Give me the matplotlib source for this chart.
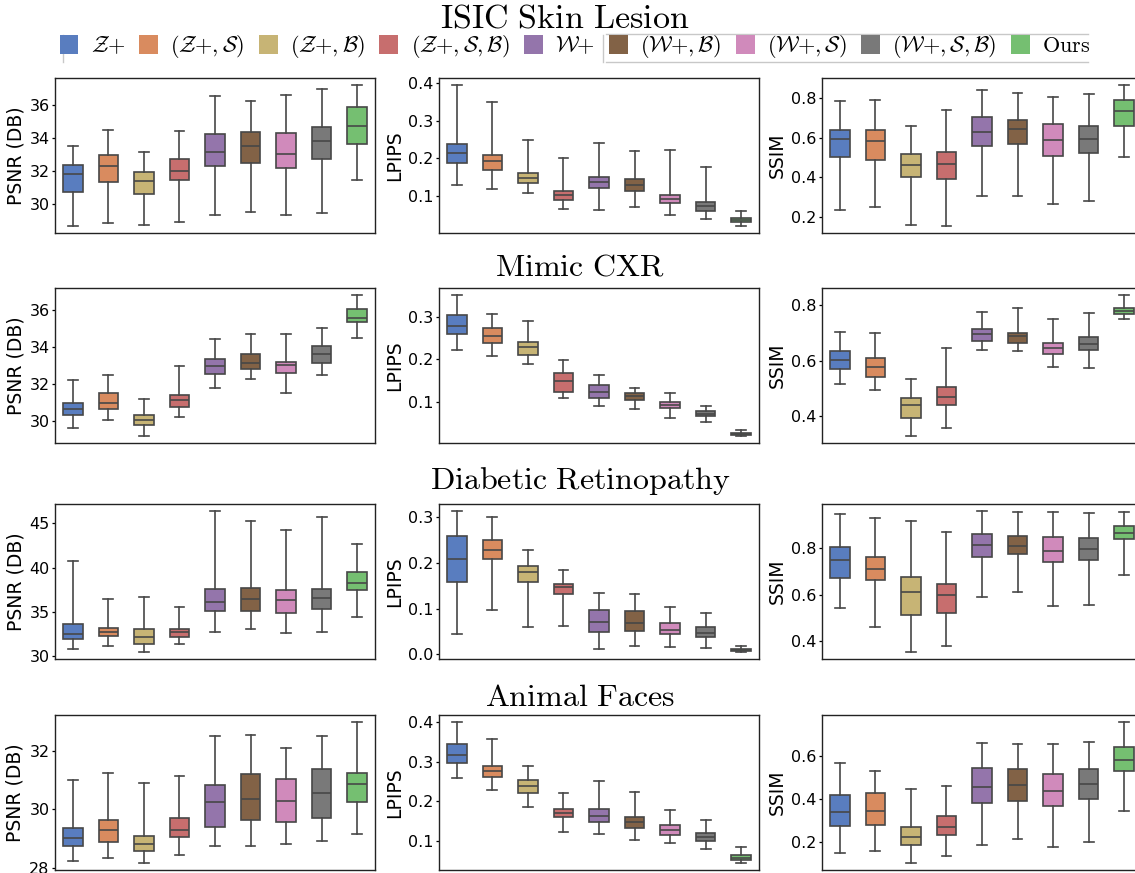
import matplotlib
matplotlib.use("Agg")
import matplotlib.pyplot as plt
import seaborn as sns
from matplotlib.patches import Patch
from matplotlib.lines import Line2D

plt.rcParams['mathtext.fontset'] = 'cm'
plt.rcParams['font.family'] = ['DejaVu Sans']

METHODS = [r'$\mathcal{Z}{+}$', r'$(\mathcal{Z}{+},\mathcal{S})$', r'$(\mathcal{Z}{+},\mathcal{B})$',
           r'$(\mathcal{Z}{+},\mathcal{S},\mathcal{B})$', r'$\mathcal{W}{+}$',
           r'$(\mathcal{W}{+},\mathcal{B})$', r'$(\mathcal{W}{+},\mathcal{S})$',
           r'$(\mathcal{W}{+},\mathcal{S},\mathcal{B})$', r'$\mathrm{Ours}$']

DATASETS = [r'$\mathrm{ISIC\ Skin\ Lesion}$', r'$\mathrm{Mimic\ CXR}$',
            r'$\mathrm{Diabetic\ Retinopathy}$', r'$\mathrm{Animal\ Faces}$']
METRICS = ['PSNR (DB)', 'LPIPS', 'SSIM']

# y ticks per dataset row, per metric column
YTICKS = [[[30, 32, 34, 36], [0.1, 0.2, 0.3, 0.4], [0.2, 0.4, 0.6, 0.8]],
          [[30, 32, 34, 36], [0.1, 0.2, 0.3], [0.4, 0.6, 0.8]],
          [[30, 35, 40, 45], [0.0, 0.1, 0.2, 0.3], [0.4, 0.6, 0.8]],
          [[28, 30, 32], [0.1, 0.2, 0.3, 0.4], [0.2, 0.4, 0.6]]]

# each row: [whisker low, q1, median, q3, whisker high]
isic_psnr = [[28.70, 30.74, 31.86, 32.40, 33.50],
             [28.86, 31.36, 32.30, 32.98, 34.50],
             [28.76, 30.62, 31.42, 31.98, 33.16],
             [28.94, 31.46, 32.02, 32.72, 34.44],
             [29.34, 32.30, 33.16, 34.26, 36.54],
             [29.54, 32.50, 33.50, 34.38, 36.26],
             [29.34, 32.20, 33.06, 34.28, 36.60],
             [29.50, 32.74, 33.84, 34.64, 36.94],
             [31.46, 33.64, 34.70, 35.86, 37.20]]
isic_lpips = [[0.130, 0.188, 0.213, 0.238, 0.395],
              [0.118, 0.168, 0.194, 0.210, 0.349],
              [0.109, 0.135, 0.148, 0.162, 0.249],
              [0.065, 0.088, 0.103, 0.112, 0.202],
              [0.062, 0.120, 0.138, 0.151, 0.240],
              [0.071, 0.114, 0.130, 0.146, 0.219],
              [0.048, 0.080, 0.092, 0.103, 0.223],
              [0.039, 0.059, 0.072, 0.084, 0.177],
              [0.020, 0.030, 0.036, 0.041, 0.061]]
isic_ssim = [[0.234, 0.501, 0.593, 0.640, 0.783],
             [0.250, 0.489, 0.585, 0.640, 0.788],
             [0.161, 0.400, 0.464, 0.516, 0.657],
             [0.156, 0.392, 0.466, 0.529, 0.738],
             [0.309, 0.560, 0.629, 0.703, 0.837],
             [0.309, 0.570, 0.644, 0.689, 0.824],
             [0.267, 0.509, 0.590, 0.667, 0.803],
             [0.281, 0.523, 0.593, 0.657, 0.818],
             [0.503, 0.659, 0.733, 0.788, 0.864]]

mimic_psnr = [[29.60, 30.31, 30.64, 30.95, 32.19],
              [30.07, 30.62, 30.98, 31.49, 32.46],
              [29.18, 29.76, 30.07, 30.32, 31.16],
              [30.20, 30.76, 31.13, 31.40, 32.95],
              [31.77, 32.53, 32.99, 33.37, 34.45],
              [32.28, 32.81, 33.14, 33.61, 34.72],
              [31.53, 32.59, 33.03, 33.17, 34.72],
              [32.50, 33.14, 33.63, 34.05, 35.03],
              [34.49, 35.38, 35.56, 36.09, 36.82]]
mimic_lpips = [[0.2225, 0.260, 0.279, 0.3055, 0.352],
               [0.208, 0.239, 0.256, 0.273, 0.307],
               [0.190, 0.2107, 0.2296, 0.2415, 0.2905],
               [0.1095, 0.1237, 0.1482, 0.1664, 0.1988],
               [0.0897, 0.1087, 0.122, 0.1387, 0.1617],
               [0.0834, 0.104, 0.1127, 0.1206, 0.1332],
               [0.062, 0.0842, 0.0913, 0.0992, 0.120],
               [0.051, 0.066, 0.0707, 0.077, 0.0905],
               [0.0186, 0.021, 0.0233, 0.0257, 0.032]]
mimic_ssim = [[0.517, 0.571, 0.604, 0.637, 0.704],
              [0.493, 0.542, 0.578, 0.610, 0.700],
              [0.329, 0.393, 0.439, 0.466, 0.536],
              [0.357, 0.440, 0.469, 0.505, 0.646],
              [0.640, 0.671, 0.698, 0.713, 0.777],
              [0.636, 0.665, 0.688, 0.701, 0.790],
              [0.578, 0.625, 0.645, 0.665, 0.751],
              [0.575, 0.640, 0.661, 0.684, 0.772],
              [0.751, 0.770, 0.781, 0.790, 0.837]]

retina_psnr = [[30.83, 31.93, 32.50, 33.60, 40.68],
               [31.21, 32.31, 32.73, 33.18, 36.40],
               [30.49, 31.44, 32.12, 33.03, 36.70],
               [31.40, 32.20, 32.69, 33.11, 35.53],
               [32.77, 35.15, 36.17, 37.61, 46.36],
               [33.07, 35.11, 36.40, 37.69, 45.27],
               [32.58, 34.92, 36.33, 37.42, 44.28],
               [32.73, 35.38, 36.52, 37.58, 45.68],
               [34.39, 37.50, 38.22, 39.47, 42.65]]
retina_lpips = [[0.0441, 0.1574, 0.2074, 0.258, 0.3132],
                [0.0978, 0.2081, 0.2287, 0.2493, 0.300],
                [0.0603, 0.1574, 0.1794, 0.1934, 0.2287],
                [0.061, 0.1316, 0.1478, 0.1544, 0.1838],
                [0.0125, 0.0493, 0.0713, 0.0963, 0.1346],
                [0.0184, 0.0515, 0.0691, 0.0949, 0.1324],
                [0.0162, 0.0441, 0.0537, 0.0691, 0.1037],
                [0.0132, 0.0368, 0.0463, 0.0596, 0.0897],
                [0.0051, 0.0074, 0.0096, 0.0118, 0.0184]]
retina_ssim = [[0.541, 0.674, 0.749, 0.807, 0.949],
               [0.459, 0.662, 0.709, 0.765, 0.933],
               [0.352, 0.514, 0.613, 0.678, 0.919],
               [0.378, 0.519, 0.600, 0.645, 0.872],
               [0.588, 0.761, 0.816, 0.864, 0.962],
               [0.613, 0.774, 0.812, 0.855, 0.957],
               [0.549, 0.741, 0.791, 0.851, 0.957],
               [0.554, 0.749, 0.797, 0.846, 0.955],
               [0.686, 0.842, 0.867, 0.899, 0.959]]

faces_psnr = [[28.25, 28.74, 29.03, 29.35, 31.01],
              [28.34, 28.87, 29.30, 29.62, 31.23],
              [28.17, 28.59, 28.82, 29.10, 30.89],
              [28.43, 29.04, 29.28, 29.69, 31.14],
              [28.75, 29.41, 30.23, 30.83, 32.48],
              [28.75, 29.63, 30.34, 31.21, 32.53],
              [28.83, 29.57, 30.29, 31.04, 32.09],
              [28.91, 29.71, 30.55, 31.37, 32.51],
              [29.14, 30.26, 30.87, 31.25, 32.97]]
faces_lpips = [[0.260, 0.298, 0.318, 0.345, 0.400],
               [0.228, 0.262, 0.277, 0.290, 0.358],
               [0.186, 0.222, 0.238, 0.255, 0.290],
               [0.122, 0.160, 0.170, 0.180, 0.220],
               [0.117, 0.148, 0.163, 0.180, 0.252],
               [0.103, 0.132, 0.147, 0.160, 0.225],
               [0.095, 0.115, 0.127, 0.140, 0.178],
               [0.080, 0.101, 0.110, 0.120, 0.152],
               [0.045, 0.053, 0.058, 0.065, 0.086]]
faces_ssim = [[0.150, 0.275, 0.340, 0.420, 0.565],
              [0.160, 0.280, 0.345, 0.430, 0.530],
              [0.105, 0.190, 0.225, 0.270, 0.445],
              [0.135, 0.235, 0.270, 0.320, 0.460],
              [0.190, 0.380, 0.455, 0.545, 0.660],
              [0.215, 0.390, 0.465, 0.540, 0.655],
              [0.180, 0.370, 0.435, 0.515, 0.655],
              [0.200, 0.400, 0.470, 0.540, 0.665],
              [0.345, 0.530, 0.580, 0.640, 0.755]]

PANELS = [[isic_psnr, isic_lpips, isic_ssim],
          [mimic_psnr, mimic_lpips, mimic_ssim],
          [retina_psnr, retina_lpips, retina_ssim],
          [faces_psnr, faces_lpips, faces_ssim]]

# seaborn "muted", reordered, with the boxplot saturation applied
_muted = sns.color_palette('muted')
COLORS = [sns.desaturate(_muted[i], 0.75) for i in (0, 1, 8, 3, 4, 5, 6, 7, 2)]
LINE = '#474747'

W, H = 1135, 873
fig = plt.figure(figsize=(W / 100, H / 100), dpi=100)

col_left = [55, 439, 822]
row_top = [78, 288, 504, 715]
ax_w, ax_h = 320, 155
title_y = [18, 267, 481, 697]
title_x = [565, 580, 580, 580]
title_size = [24.5, 23, 23, 23]


def draw_boxes(ax, rows, ticks):
    stats = [dict(whislo=r[0], q1=r[1], med=r[2], q3=r[3], whishi=r[4], fliers=[])
             for r in rows]
    lp = dict(color=LINE, linewidth=1.2)
    bp = ax.bxp(stats, positions=range(len(stats)), widths=0.55, patch_artist=True,
                showfliers=False, boxprops=dict(edgecolor=LINE, linewidth=1.2),
                whiskerprops=lp, capprops=lp, medianprops=lp)
    for patch, c in zip(bp['boxes'], COLORS):
        patch.set_facecolor(c)
    ax.set_xlim(-0.5, len(stats) - 0.5)
    ax.set_xticks([])
    ax.set_yticks(ticks)
    ax.tick_params(axis='y', labelsize=11.5, length=2.5, width=0.9, pad=1.5)
    for sp in ax.spines.values():
        sp.set_color('#222222')
        sp.set_linewidth(1.0)


for r, row in enumerate(PANELS):
    for c, rows in enumerate(row):
        ax = fig.add_axes([col_left[c] / W, 1 - (row_top[r] + ax_h) / H, ax_w / W, ax_h / H])
        draw_boxes(ax, rows, YTICKS[r][c])
        ax.set_ylabel(METRICS[c], fontsize=13.5, labelpad=3)
    fig.text(title_x[r] / W, 1 - title_y[r] / H, DATASETS[r], fontsize=title_size[r],
             ha='center', va='center')

handles = [Patch(facecolor=c, edgecolor='none') for c in COLORS]
fig.legend(handles, METHODS, loc='center', bbox_to_anchor=(575 / W, 1 - 47 / H),
           ncol=9, frameon=False, fontsize=16, handlelength=0.85, handleheight=0.95,
           handletextpad=0.55, columnspacing=0.65, borderaxespad=0, borderpad=0)

# thin grey rules around the legend row
rule = dict(color='#c8c8c8', linewidth=1.0)
fig.add_artist(Line2D([63 / W, 63 / W], [1 - 35 / H, 1 - 62 / H], **rule))
fig.add_artist(Line2D([603 / W, 603 / W], [1 - 35 / H, 1 - 62 / H], **rule))
fig.add_artist(Line2D([606 / W, 1088 / W], [1 - 34 / H, 1 - 34 / H], **rule))
fig.add_artist(Line2D([606 / W, 1088 / W], [1 - 62 / H, 1 - 62 / H], **rule))

fig.savefig('out.png', dpi=100)
